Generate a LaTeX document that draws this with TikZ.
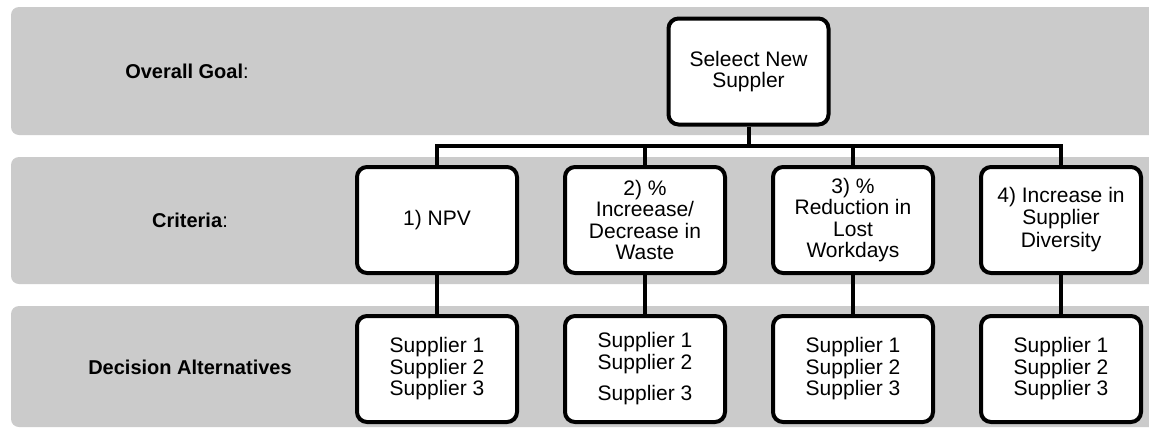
\documentclass[tikz,border=0pt]{standalone}
\usepackage{fontspec}
\setmainfont{Liberation Sans}
\usetikzlibrary{positioning}

\definecolor{bandgray}{HTML}{CBCBCB}

\begin{document}
\begin{tikzpicture}[x=1pt,y=-1pt,node distance=208pt,
    band/.style={fill=bandgray,rounded corners=8pt},
    level/.style={font=\fontsize{20}{22}\selectfont,align=center},
    box/.style={draw,fill=white,line width=4pt,rounded corners=10pt,
                minimum width=160pt,minimum height=106pt,align=center,
                font=\fontsize{21}{21.5}\selectfont},
    link/.style={line width=4pt}]
  \useasboundingbox (0,0) rectangle (1149,429);

  % grey rows
  \fill[band] (11,7)   rectangle (1175,135);
  \fill[band] (11,157) rectangle (1175,284);
  \fill[band] (11,306) rectangle (1175,427);

  \node[level] (lgoal) at (187,71)  {\textbf{Overall Goal}:};
  \node[level] (lcrit) at (190,220) {\textbf{Criteria}:};
  \node[level] (lalt)  at (190,367) {\textbf{Decision Alternatives}};

  \node[box] (goal) at (748.5,71.5) {Seleect New\\Suppler};

  \node[box] (c1) at (437,220) {1) NPV};
  \node[box] (c2) [right of=c1] {2) \%\\Increease/\\Decrease in\\Waste};
  \node[box] (c3) [right of=c2] {3) \%\\Reduction in\\Lost\\Workdays};
  \node[box] (c4) [right of=c3] {4) Increase in\\Supplier\\[2pt]Diversity};

  \node[box] (a1) [below of=c1,node distance=149pt] {Supplier 1\\Supplier 2\\Supplier 3};
  \node[box] (a2) [below of=c2,node distance=149pt] {Supplier 1\\Supplier 2\\[10pt]Supplier 3};
  \node[box] (a3) [below of=c3,node distance=149pt] {Supplier 1\\Supplier 2\\Supplier 3};
  \node[box] (a4) [below of=c4,node distance=149pt] {Supplier 1\\Supplier 2\\Supplier 3};

  \coordinate (bus) at (0,146);
  \draw[link] (goal.south) -- (goal.south |- bus);
  \draw[link] (c1.north) |- (c4.north |- bus) -- (c4.north);
  \draw[link] (c2.north) -- (c2.north |- bus);
  \draw[link] (c3.north) -- (c3.north |- bus);

  \path[link] (c1) edge (a1)
              (c2) edge (a2)
              (c3) edge (a3)
              (c4) edge (a4);
\end{tikzpicture}
\end{document}
